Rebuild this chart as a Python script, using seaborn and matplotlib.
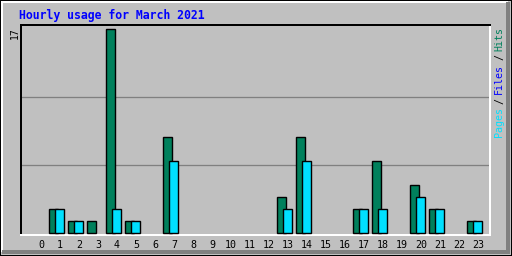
import numpy as np
import pandas as pd
import matplotlib
matplotlib.use("Agg")
import matplotlib.pyplot as plt
import seaborn as sns
from matplotlib.lines import Line2D
from matplotlib.patches import Rectangle

# ---- data ----
hours = list(range(24))
hits  = [0, 2, 1, 1, 17, 1, 0, 8, 0, 0, 0, 0, 0, 3, 8, 0, 0, 2, 6, 0, 4, 2, 0, 1]
pages = [0, 2, 1, 0, 2, 1, 0, 6, 0, 0, 0, 0, 0, 2, 6, 0, 0, 2, 2, 0, 3, 2, 0, 1]
tick_labels = [str(h) for h in hours]
title = "Hourly usage for March 2021"
max_label = "17"

BG = "#C0C0C0"
HITS_C = "#00805C"
FILES_C = "#0000FF"
PAGES_C = "#00E0FF"

sns.set_theme(style="white")
plt.rcParams["font.family"] = ["DejaVu Sans Mono"]

W, H = 512, 256
fig = plt.figure(figsize=(W / 100, H / 100), dpi=100, facecolor=BG)

# axes placement (pixels)
ax_l, ax_r, ax_t, ax_b = 20.5, 490.0, 24.5, 234.5
ax = fig.add_axes([ax_l / W, 1 - ax_b / H, (ax_r - ax_l) / W, (ax_b - ax_t) / H])
ax.set_facecolor(BG)

df = pd.DataFrame({"hour": hours, "hits": hits, "pages": pages})
dh = df[df.hits > 0].copy()
dh["x"] = dh.hour - 0.353
dp = df[df.pages > 0].copy()
dp["x"] = dp.hour - 0.037

bw = 9.3 / 19
px = 1 / 100 * 72  # 1 pixel in points
sns.barplot(data=dh, x="x", y="hits", native_scale=True, width=bw, color=HITS_C,
            saturation=1, edgecolor="black", linewidth=1.4 * px, errorbar=None, ax=ax, zorder=3)
sns.barplot(data=dp, x="x", y="pages", native_scale=True, width=bw, color=PAGES_C,
            saturation=1, edgecolor="black", linewidth=1.4 * px, errorbar=None, ax=ax, zorder=4)

ymax = 17
for g in (ymax / 3, 2 * ymax / 3):
    ax.axhline(g, color="#808080", lw=1.3 * px, zorder=1)

x0 = (ax_l - 41) / 19
x1 = (ax_r - 41) / 19
ax.set_xlim(x0, x1)
ax.set_ylim(-(ax_b - 232.5) / 12, (232.5 - ax_t) / 12)
ax.set_xticks(hours)
ax.set_xticklabels(tick_labels, fontsize=7.2, color="black")
ax.tick_params(axis="x", length=0, pad=4)
ax.set_yticks([])
ax.set_xlabel("")
ax.set_ylabel("")
for s in ("top", "left"):
    ax.spines[s].set_color("black")
    ax.spines[s].set_linewidth(2 * px)
for s in ("bottom", "right"):
    ax.spines[s].set_color("white")
    ax.spines[s].set_linewidth(2 * px)

# title and labels
fig.text(19 / W, 1 - 15 / H, title, color="#0000FF", fontsize=8.3, fontweight="bold",
         ha="left", va="center")
fig.text(14.5 / W, 1 - 33 / H, max_label, rotation=90, fontsize=7, color="black",
         ha="center", va="center")

# right legend-label, rotated, multi-coloured (placed bottom to top)
parts = [("Pages", PAGES_C), ("/", "black"), ("Files", FILES_C), ("/", "black"), ("Hits", HITS_C)]
renderer = fig.canvas.get_renderer()
y = 137.0
gap = 3.5
for txt, col in parts:
    t = fig.text(499 / W, 1 - y / H, txt, rotation=90, fontsize=7.2, color=col,
                 ha="center", va="bottom")
    ext = t.get_window_extent(renderer)
    y -= ext.height + gap

# outer bevel frame
def hline(y, xa, xb, c, lw):
    fig.add_artist(Line2D([xa / W, xb / W], [1 - y / H, 1 - y / H], color=c, lw=lw * px,
                          transform=fig.transFigure, solid_capstyle="butt"))

def vline(x, ya, yb, c, lw):
    fig.add_artist(Line2D([x / W, x / W], [1 - ya / H, 1 - yb / H], color=c, lw=lw * px,
                          transform=fig.transFigure, solid_capstyle="butt"))

hline(2, 1, 508, "white", 2)
vline(2, 1, 252, "white", 2)
hline(252, 2, 510, "#808080", 4)
vline(508, 2, 254, "#808080", 4)
fig.add_artist(Rectangle((0, 0), 1, 1, transform=fig.transFigure, fill=False,
                         edgecolor="black", lw=2 * px))

fig.savefig("out.png", dpi=100, facecolor=BG)
